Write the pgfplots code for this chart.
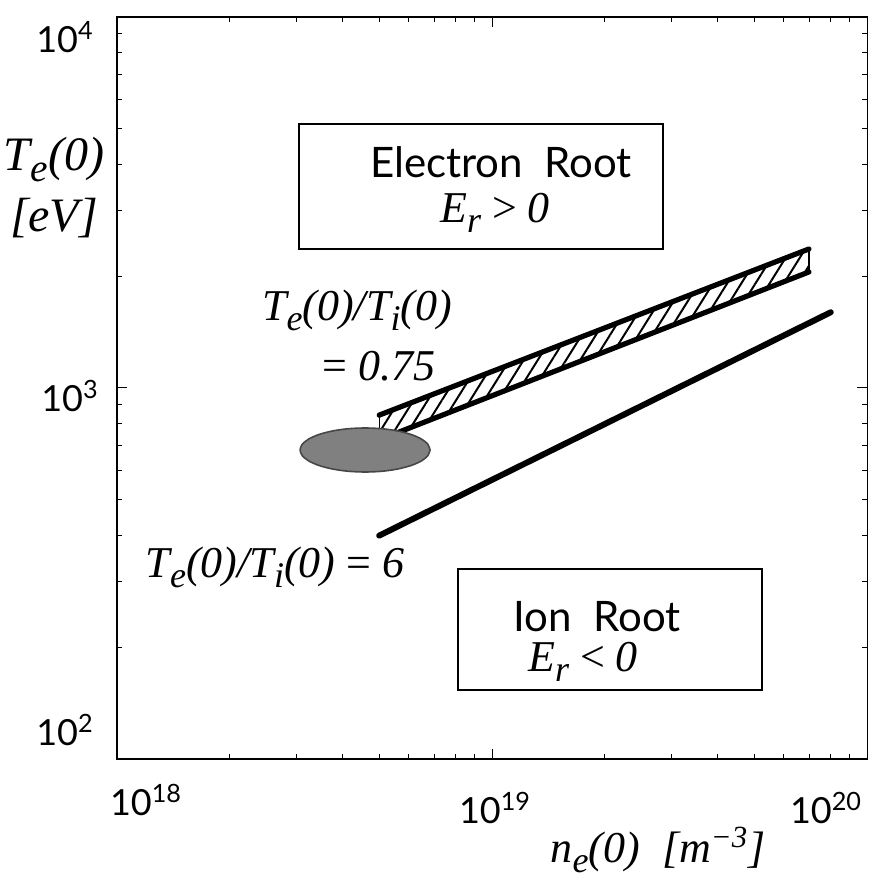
\documentclass[border=0pt]{standalone}
\usepackage{pgfplots}
\pgfplotsset{compat=1.18}
\usetikzlibrary{patterns.meta}
\usepackage{graphicx}
\usepackage{fontspec}
\setmainfont{Lato}
\newfontfamily\tnr{Liberation Serif}
\newcommand{\ti}[1]{{\tnr\itshape #1}}
\newcommand{\sub}[1]{\raisebox{-0.5ex}{\scalebox{0.82}{#1}}}
\begin{document}
\begin{tikzpicture}
\useasboundingbox (-58.5pt,-61pt) rectangle (379pt,379.5pt);
\begin{axis}[at={(0pt,0pt)}, anchor=south west, scale only axis,
  width=375pt, height=371pt,
  xmode=log, ymode=log, xmin=1e18, xmax=1e20, ymin=100, ymax=1e4,
  xticklabels={}, yticklabels={},
  xticklabel style={opacity=0}, yticklabel style={opacity=0},
  major tick length=5pt, minor tick length=2.5pt,
  axis line style={line width=0.6pt},
  tick style={black, line width=0.5pt},
  clip=false]
% hatched band T_e/T_i = 0.75
\addplot[draw=none, pattern={Lines[angle=58,distance=6pt,line width=1pt]}]
  coordinates {(5e18,845) (7e19,2370) (7e19,2055) (5e18,725)} -- cycle;
\addplot[line width=2.6pt, line cap=round] coordinates {(5e18,845) (7e19,2370)};
\addplot[line width=2.6pt, line cap=round] coordinates {(5e18,725) (7e19,2055)};
\addplot[line width=0.6pt] coordinates {(7e19,2370) (7e19,2055)};
\addplot[line width=0.6pt] coordinates {(5e18,845) (5e18,725)};
% T_e/T_i = 6
\addplot[line width=3pt, line cap=round] coordinates {(5e18,400) (8e19,1600)};
% experimental region (ellipse)
\addplot[smooth, fill=black!50, draw=black!72, line width=0.8pt] coordinates {
(6.833e18,680.6) (6.741e18,705.2) (6.477e18,728.8) (6.077e18,749.6)
(5.598e18,766.1) (5.085e18,776.6) (4.585e18,780.2) (4.135e18,776.6)
(3.756e18,766.1) (3.458e18,749.6) (3.245e18,728.8) (3.118e18,705.2)
(3.076e18,680.6) (3.118e18,657.1) (3.245e18,635.7) (3.458e18,618.0)
(3.756e18,604.7) (4.135e18,596.4) (4.585e18,593.7) (5.085e18,596.4)
(5.598e18,604.7) (6.077e18,618.0) (6.477e18,635.7) (6.741e18,657.1)
(6.833e18,680.6)} -- cycle;
\end{axis}
% boxes
\draw[line width=0.8pt] (91pt,255pt) rectangle (273pt,317.5pt);
\draw[line width=0.8pt] (170.5pt,34.5pt) rectangle (322.5pt,95pt);
% box texts
\node[font=\fontsize{21}{25}\selectfont] at (192pt,298.5pt) {Electron\ \ Root};
\node[font=\fontsize{22}{26}\selectfont] at (189pt,273pt) {\ti{E\sub{r} {\upshape\tnr >} 0}};
\node[font=\fontsize{21}{25}\selectfont] at (240pt,71pt) {Ion\ \ Root};
\node[font=\fontsize{22}{26}\selectfont] at (233pt,48.5pt) {\ti{E\sub{r} {\upshape\tnr <} 0}};
% ratio labels
\node[font=\fontsize{22}{26}\selectfont] at (120pt,224.5pt) {\ti{T\sub{e}(0)/T\sub{i}(0)}};
\node[font=\fontsize{22}{26}\selectfont] at (131pt,196.5pt) {\ti{{\upshape\tnr =} 0.75}};
\node[font=\fontsize{22}{26}\selectfont] at (79pt,96pt) {\ti{T\sub{e}(0)/T\sub{i}(0) {\upshape\tnr =} 6}};
% axis labels
\node[font=\fontsize{24}{28}\selectfont] at (-31.5pt,299.5pt) {\ti{T\sub{e}(0)}};
\node[font=\fontsize{24}{28}\selectfont] at (-31.5pt,270.5pt) {\ti{[eV]}};
\node[font=\fontsize{22}{26}\selectfont] at (270.5pt,-45.5pt) {\ti{n\sub{e}(0)\ \ [m\textsuperscript{−3}]}};
% tick labels
\node[font=\fontsize{18}{22}\selectfont] at (-26pt,361pt) {10\textsuperscript{4}};
\node[font=\fontsize{18}{22}\selectfont] at (-23.5pt,181.5pt) {10\textsuperscript{3}};
\node[font=\fontsize{18}{22}\selectfont] at (-26pt,14.5pt) {10\textsuperscript{2}};
\node[font=\fontsize{18}{22}\selectfont] at (14.5pt,-20.5pt) {10\textsuperscript{18}};
\node[font=\fontsize{18}{22}\selectfont] at (189pt,-24.5pt) {10\textsuperscript{19}};
\node[font=\fontsize{18}{22}\selectfont] at (354.5pt,-24.5pt) {10\textsuperscript{20}};
\end{tikzpicture}
\end{document}
